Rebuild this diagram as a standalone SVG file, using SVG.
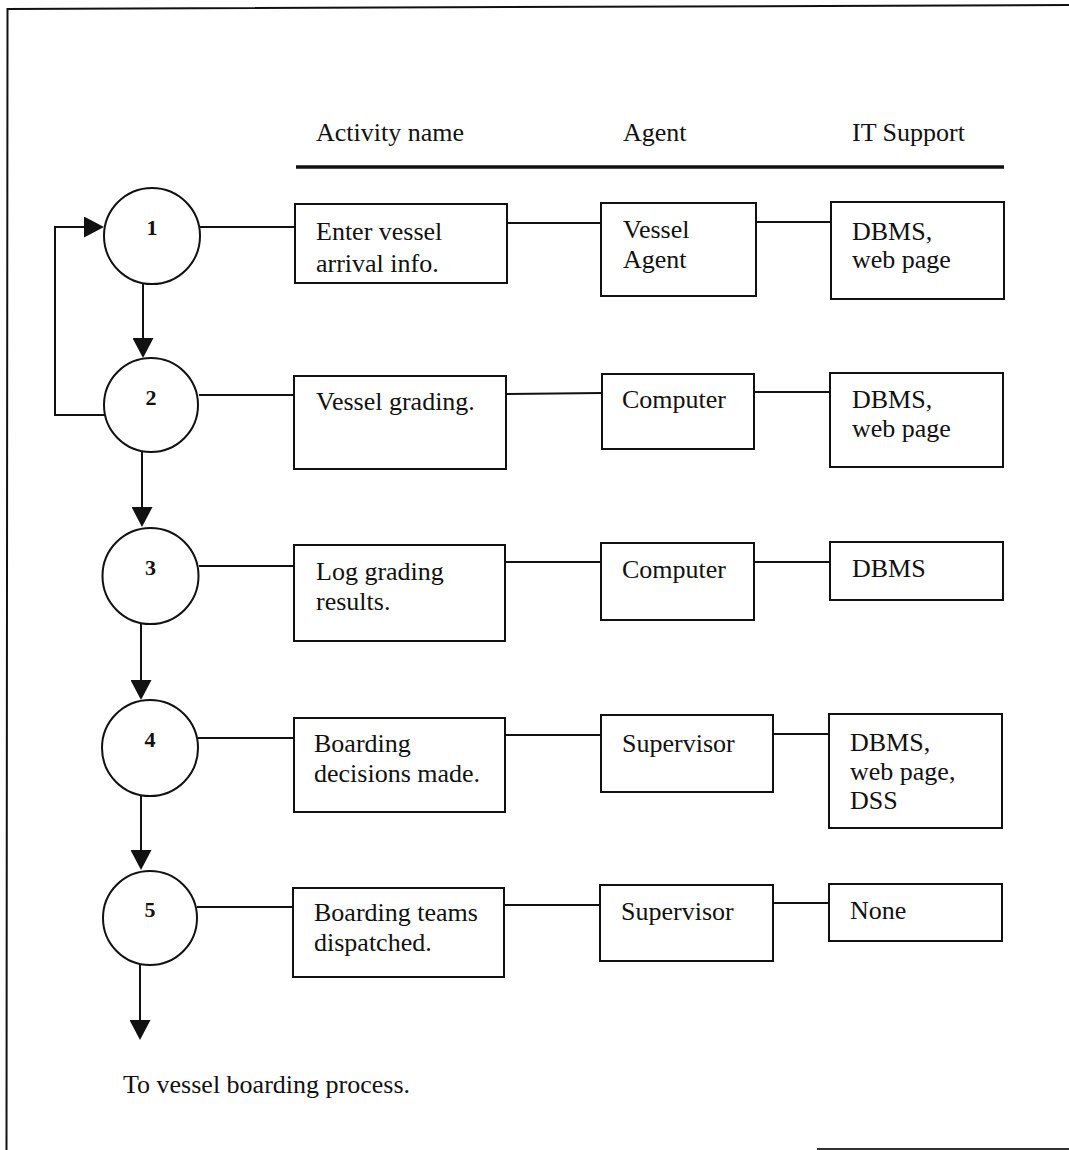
<svg xmlns="http://www.w3.org/2000/svg" width="1069" height="1150" viewBox="0 0 1069 1150">
  <style>
    text { font-family: "Liberation Serif", "Times New Roman", serif; font-size: 26px; fill: #111; }
    .num { font-size: 22px; font-weight: bold; text-anchor: middle; }
    .box { fill: #fff; stroke: #111; stroke-width: 2; }
    .step { fill: #fff; stroke: #111; stroke-width: 2; }
    .link { fill: none; stroke: #111; stroke-width: 2; }
    .flow { fill: none; stroke: #111; stroke-width: 2; marker-end: url(#arrow); }
  </style>
  <defs>
    <marker id="arrow" markerUnits="userSpaceOnUse" markerWidth="21" markerHeight="21" refX="10" refY="10.5" orient="auto">
      <path d="M0,0 L20,10.5 L0,21 z" fill="#111"/>
    </marker>
  </defs>

  <rect width="1069" height="1150" fill="#fff"/>

  <!-- page frame -->
  <path d="M6.5,1150 L7.5,9 L1069,5" fill="none" stroke="#111" stroke-width="2"/>
  <line x1="817" y1="1149" x2="1069" y2="1149" stroke="#333" stroke-width="2"/>

  <!-- column headings -->
  <g id="headings">
    <text x="316" y="141">Activity name</text>
    <text x="623" y="141">Agent</text>
    <text x="852" y="141">IT Support</text>
    <line x1="296" y1="167" x2="1004" y2="167" stroke="#111" stroke-width="3.5"/>
  </g>

  <!-- connectors -->
  <g id="connectors">
    <!-- process flow -->
    <path class="flow" d="M143,283 V348"/>
    <path class="flow" d="M142,451 V517"/>
    <path class="flow" d="M141,624 V690"/>
    <path class="flow" d="M141,796 V860"/>
    <path class="flow" d="M140,965 V1030"/>
    <!-- loop back from step 2 to step 1 -->
    <path class="flow" d="M105,415 H55 V227 H94"/>
    <!-- row links -->
    <line class="link" x1="200" y1="227" x2="295" y2="227"/>
    <line class="link" x1="507" y1="223" x2="601" y2="223"/>
    <line class="link" x1="756" y1="222" x2="831" y2="222"/>

    <line class="link" x1="199" y1="395" x2="294" y2="395"/>
    <line class="link" x1="506" y1="394" x2="602" y2="393"/>
    <line class="link" x1="754" y1="392" x2="830" y2="392"/>

    <line class="link" x1="199" y1="566" x2="294" y2="566"/>
    <line class="link" x1="505" y1="562" x2="601" y2="562"/>
    <line class="link" x1="754" y1="562" x2="830" y2="562"/>

    <line class="link" x1="198" y1="738" x2="294" y2="738"/>
    <line class="link" x1="505" y1="735" x2="601" y2="735"/>
    <line class="link" x1="773" y1="734" x2="829" y2="734"/>

    <line class="link" x1="197" y1="907" x2="293" y2="907"/>
    <line class="link" x1="504" y1="905" x2="600" y2="905"/>
    <line class="link" x1="773" y1="903" x2="829" y2="903"/>
  </g>

  <!-- step 1 -->
  <g id="step1">
    <circle class="step" cx="152" cy="236" r="48"/>
    <text class="num" x="152" y="235">1</text>
  </g>
  <g id="activity1">
    <rect class="box" x="295" y="204" width="212" height="79"/>
    <text x="316" y="240">Enter vessel</text>
    <text x="316" y="272">arrival info.</text>
  </g>
  <g id="agent1">
    <rect class="box" x="601" y="203" width="155" height="93"/>
    <text x="623" y="238">Vessel</text>
    <text x="623" y="268">Agent</text>
  </g>
  <g id="it1">
    <rect class="box" x="831" y="202" width="173" height="97"/>
    <text x="852" y="240">DBMS,</text>
    <text x="852" y="268">web page</text>
  </g>

  <!-- step 2 -->
  <g id="step2">
    <circle class="step" cx="151" cy="405" r="47"/>
    <text class="num" x="151" y="405">2</text>
  </g>
  <g id="activity2">
    <rect class="box" x="294" y="376" width="212" height="93"/>
    <text x="316" y="410">Vessel grading.</text>
  </g>
  <g id="agent2">
    <rect class="box" x="602" y="374" width="152" height="75"/>
    <text x="622" y="408">Computer</text>
  </g>
  <g id="it2">
    <rect class="box" x="830" y="373" width="173" height="94"/>
    <text x="852" y="408">DBMS,</text>
    <text x="852" y="437">web page</text>
  </g>

  <!-- step 3 -->
  <g id="step3">
    <circle class="step" cx="150.5" cy="576" r="48"/>
    <text class="num" x="150.5" y="575">3</text>
  </g>
  <g id="activity3">
    <rect class="box" x="294" y="545" width="211" height="96"/>
    <text x="316" y="580">Log grading</text>
    <text x="316" y="610">results.</text>
  </g>
  <g id="agent3">
    <rect class="box" x="601" y="543" width="153" height="77"/>
    <text x="622" y="578">Computer</text>
  </g>
  <g id="it3">
    <rect class="box" x="830" y="542" width="173" height="58"/>
    <text x="852" y="577">DBMS</text>
  </g>

  <!-- step 4 -->
  <g id="step4">
    <circle class="step" cx="150" cy="748" r="48"/>
    <text class="num" x="150" y="747">4</text>
  </g>
  <g id="activity4">
    <rect class="box" x="294" y="718" width="211" height="94"/>
    <text x="314" y="752">Boarding</text>
    <text x="314" y="782">decisions made.</text>
  </g>
  <g id="agent4">
    <rect class="box" x="601" y="715" width="172" height="77"/>
    <text x="622" y="752">Supervisor</text>
  </g>
  <g id="it4">
    <rect class="box" x="829" y="714" width="173" height="114"/>
    <text x="850" y="751">DBMS,</text>
    <text x="850" y="780">web page,</text>
    <text x="850" y="809">DSS</text>
  </g>

  <!-- step 5 -->
  <g id="step5">
    <circle class="step" cx="150" cy="918" r="47"/>
    <text class="num" x="150" y="917">5</text>
  </g>
  <g id="activity5">
    <rect class="box" x="293" y="888" width="211" height="89"/>
    <text x="314" y="921">Boarding teams</text>
    <text x="314" y="951">dispatched.</text>
  </g>
  <g id="agent5">
    <rect class="box" x="600" y="885" width="173" height="76"/>
    <text x="621" y="920">Supervisor</text>
  </g>
  <g id="it5">
    <rect class="box" x="829" y="884" width="173" height="57"/>
    <text x="850" y="919">None</text>
  </g>

  <!-- continuation note -->
  <g id="next-process">
    <text x="123" y="1093">To vessel boarding process.</text>
  </g>
</svg>
